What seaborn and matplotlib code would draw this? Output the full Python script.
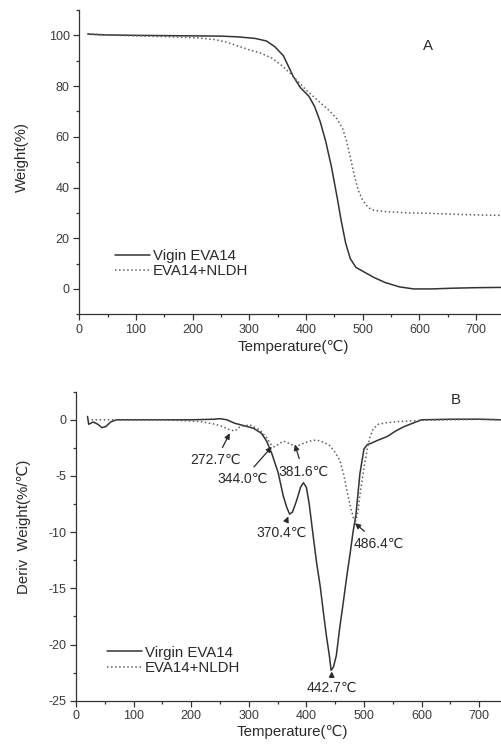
import numpy as np
import pandas as pd
import matplotlib
matplotlib.use("Agg")
import matplotlib.pyplot as plt
from matplotlib.ticker import MultipleLocator
import seaborn as sns

# TGA curves (panel A)
tga_virgin_t = [15, 40, 100, 200, 250, 280, 310, 330, 345, 360, 377, 390, 405, 415,
                425, 435, 445, 455, 462, 470, 478, 488, 500, 520, 540, 565, 590, 620,
                660, 700, 744]
tga_virgin_w = [100.5, 100.2, 100, 99.8, 99.7, 99.4, 98.8, 97.8, 95.5, 92, 84, 79.4, 76, 72,
                66, 58, 48, 36, 27, 18, 12, 8.5, 7, 4.5, 2.5, 0.8, 0, 0,
                0.3, 0.5, 0.6]
tga_nldh_t = [15, 40, 70, 150, 210, 240, 260, 280, 300, 320, 340, 355, 370, 385, 400,
              420, 440, 455, 465, 472, 478, 485, 492, 500, 510, 520, 540, 580, 620, 680, 744]
tga_nldh_w = [100.6, 100.3, 100, 99.5, 99, 98.3, 97.3, 95.8, 94.3, 93, 91, 88.5, 85.5, 82, 78.5,
              74.5, 70.5, 67, 63, 58, 52, 45, 39, 35, 32, 31, 30.5, 30, 29.8, 29.3, 29]

# DTG curves (panel B)
dtg_virgin_t = [20, 22, 30, 38, 45, 52, 60, 70, 150, 200, 240, 250, 262, 275, 290, 308,
                322, 331, 340, 351, 360, 366, 371, 376, 383, 390, 395, 400, 405, 412,
                418, 424, 430, 435, 440, 443, 447, 452, 458, 464, 470, 476, 481, 486,
                493, 500, 506, 512, 525, 540, 555, 570, 585, 600, 650, 700, 738]
dtg_virgin_d = [0.3, -0.4, -0.2, -0.4, -0.7, -0.6, -0.2, 0, 0, 0, 0.05, 0.1, 0, -0.3, -0.5, -0.75,
                -1.2, -1.9, -3.0, -4.7, -6.8, -7.8, -8.4, -8.2, -7.2, -6.0, -5.6, -6.0, -7.5, -10.4,
                -12.8, -14.8, -17.3, -19.3, -21.0, -22.3, -22.0, -21.0, -18.5, -16.3, -14, -11.9, -10.0, -8.5,
                -4.8, -2.6, -2.2, -2.1, -1.8, -1.5, -1.0, -0.6, -0.3, 0, 0.05, 0.05, 0]
dtg_nldh_t = [20, 60, 150, 215, 238, 255, 267, 276, 285, 302, 319, 331, 340, 344, 351, 360,
              366, 374, 382, 390, 400, 410, 418, 430, 441, 450, 458, 465, 470, 476, 482, 486,
              490, 493, 500, 505, 510, 516, 525, 540, 563, 600, 650, 700, 738]
dtg_nldh_d = [0, 0, 0, -0.15, -0.36, -0.6, -0.9, -1.0, -0.6, -0.45, -0.9, -1.6, -2.3, -2.4, -2.2, -1.9,
              -2.0, -2.2, -2.4, -2.2, -2.0, -1.85, -1.8, -2.0, -2.3, -2.9, -3.6, -4.9, -6.2, -7.6, -8.8, -9.0,
              -8.0, -6.7, -4.3, -2.8, -1.6, -0.8, -0.4, -0.25, -0.15, -0.05, 0, 0.05, 0]

# peak annotations: label, arrow tip, text centre
peak_labels = ["272.7℃", "344.0℃", "381.6℃", "370.4℃", "486.4℃", "442.7℃"]
peak_tip = [(267, -1.2), (340, -2.4), (380, -2.2), (368.6, -8.6), (484.4, -9.2), (444, -22.4)]
peak_text = [(243, -3.6), (290, -5.3), (394.6, -4.6), (357, -10.1), (525, -11.0), (444, -23.9)]

sns.set_style("ticks")
plt.rcParams['font.family'] = ['Liberation Sans', 'DejaVu Sans']
plt.rcParams['axes.unicode_minus'] = False

line_c = '#333333'
dot_c = '#606060'
txt_c = '#2a2a2a'
lab_fs = 10.8

fig = plt.figure(figsize=(5.01, 7.51), dpi=100)
ax1 = fig.add_axes([79.3 / 501, 1 - 314.3 / 751, (501 - 79.3) / 501, 304.3 / 751])
ax2 = fig.add_axes([76 / 501, 1 - 700.7 / 751, (501 - 76) / 501, 309 / 751])

sns.lineplot(x=tga_virgin_t, y=tga_virgin_w, ax=ax1, color=line_c, lw=1.1,
             label="Vigin EVA14", sort=False)
sns.lineplot(x=tga_nldh_t, y=tga_nldh_w, ax=ax1, color=dot_c, lw=1.1, linestyle=':',
             label="EVA14+NLDH", sort=False)
sns.lineplot(x=dtg_virgin_t, y=dtg_virgin_d, ax=ax2, color=line_c, lw=1.1,
             label="Virgin EVA14", sort=False)
sns.lineplot(x=dtg_nldh_t, y=dtg_nldh_d, ax=ax2, color=dot_c, lw=1.1, linestyle=':',
             label="EVA14+NLDH", sort=False)

ax1.set_xlim(0, 744)
ax1.set_ylim(-10, 110)
ax1.xaxis.set_major_locator(MultipleLocator(100))
ax1.xaxis.set_minor_locator(MultipleLocator(50))
ax1.yaxis.set_minor_locator(MultipleLocator(10))
ax1.set_yticks([0, 20, 40, 60, 80, 100])

ax2.set_xlim(0, 738)
ax2.set_ylim(-25, 2.5)
ax2.xaxis.set_major_locator(MultipleLocator(100))
ax2.xaxis.set_minor_locator(MultipleLocator(50))
ax2.yaxis.set_major_locator(MultipleLocator(5))
ax2.yaxis.set_minor_locator(MultipleLocator(2.5))

for ax in (ax1, ax2):
    sns.despine(ax=ax, top=True, right=True)
    for s in ('left', 'bottom'):
        ax.spines[s].set_color(line_c)
        ax.spines[s].set_linewidth(0.9)
    ax.tick_params(which='major', direction='out', length=4.5, width=0.9,
                   color=line_c, labelsize=9, labelcolor='#3a3a3a', pad=2.5)
    ax.tick_params(which='minor', direction='out', length=2.5, width=0.9, color=line_c)
    ax.set_xlabel("Temperature(℃)", fontsize=lab_fs, color=txt_c)

ax1.set_ylabel("Weight(%)", fontsize=lab_fs, color=txt_c)
ax2.set_ylabel("Deriv  Weight(%/℃)", fontsize=lab_fs, color=txt_c)
ax1.yaxis.set_label_coords(-0.119, 0.517)
ax2.yaxis.set_label_coords(-0.106, 0.562)
ax1.xaxis.set_label_coords(0.507, -0.085)
ax2.xaxis.set_label_coords(0.51, -0.079)

ax1.legend(loc='upper left', bbox_to_anchor=(0.085, 0.215), frameon=False, fontsize=lab_fs,
           borderpad=0, borderaxespad=0, handlelength=2.3, handletextpad=0.2,
           labelspacing=0.1, labelcolor=txt_c)
ax2.legend(loc='upper left', bbox_to_anchor=(0.073, 0.178), frameon=False, fontsize=lab_fs,
           borderpad=0, borderaxespad=0, handlelength=2.3, handletextpad=0.2,
           labelspacing=0.1, labelcolor=txt_c)

ax1.text(615, 95.8, "A", fontsize=lab_fs, color=txt_c, ha='center', va='center')
ax2.text(660, 1.8, "B", fontsize=lab_fs, color=txt_c, ha='center', va='center')

for lab, tip, pos in zip(peak_labels, peak_tip, peak_text):
    ax2.annotate(lab, xy=tip, xytext=pos, fontsize=10, color=txt_c,
                 ha='center', va='center',
                 arrowprops=dict(arrowstyle='-|>', color=txt_c, lw=0.9,
                                 mutation_scale=8, shrinkA=2, shrinkB=0))

fig.savefig("out.png", dpi=100)
